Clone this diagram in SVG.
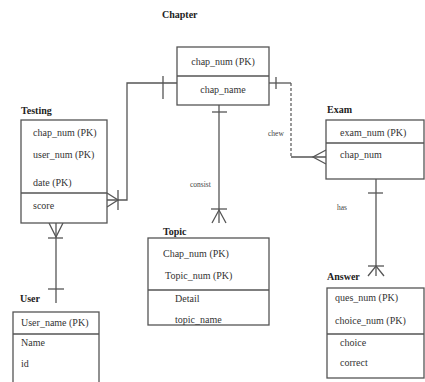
<svg xmlns="http://www.w3.org/2000/svg" width="425" height="382" viewBox="0 0 425 382">
<style>
.box{fill:#fff;stroke:#555;stroke-width:1.3}
.ln{fill:none;stroke:#555;stroke-width:1.3}
.dash{fill:none;stroke:#555;stroke-width:1.2;stroke-dasharray:3,2}
.t{font-family:'Liberation Serif','Times New Roman','DejaVu Serif',serif;font-size:10px;fill:#333}
.title{font-family:'Liberation Serif','Times New Roman','DejaVu Serif',serif;font-size:10px;font-weight:bold;fill:#222}
.lbl{font-family:'Liberation Serif','Times New Roman','DejaVu Serif',serif;font-size:7.5px;fill:#444}
</style>
<rect width="425" height="382" fill="#fff"/>
<g id="connectors">
  <polyline class="ln" points="177,83 127,83 127,200 107,200"/>
  <line class="ln" x1="163" y1="76" x2="163" y2="99"/>
  <line class="ln" x1="118" y1="190" x2="118" y2="210"/>
  <polyline class="ln" points="107,193 118,200 107,207"/>
  <line class="ln" x1="219" y1="105" x2="219" y2="223"/>
  <line class="ln" x1="212" y1="112" x2="227" y2="112"/>
  <line class="ln" x1="211" y1="209" x2="227" y2="209"/>
  <polyline class="ln" points="212,223 219,210 226,223"/>
  <text class="lbl" x="190" y="187">consist</text>
  <polyline class="ln" points="269,83 291,83"/>
  <line class="ln" x1="276" y1="77" x2="276" y2="89"/>
  <line class="dash" x1="291" y1="83" x2="291" y2="157"/>
  <line class="ln" x1="291" y1="157" x2="326" y2="157"/>
  <polyline class="ln" points="326,150 313,157 326,164"/>
  <text class="lbl" x="268" y="136">chew</text>
  <line class="ln" x1="56" y1="223" x2="56" y2="303"/>
  <polyline class="ln" points="49,223 56,237 63,223"/>
  <line class="ln" x1="48" y1="238" x2="63" y2="238"/>
  <line class="ln" x1="48" y1="289" x2="64" y2="289"/>
  <line class="ln" x1="376" y1="179" x2="376" y2="276"/>
  <line class="ln" x1="368" y1="193" x2="383" y2="193"/>
  <line class="ln" x1="368" y1="266" x2="384" y2="266"/>
  <polyline class="ln" points="368,276 376,266 384,276"/>
  <text class="lbl" x="337" y="210">has</text>
</g>
<g id="chapter">
  <text class="title" x="162" y="18">Chapter</text>
  <rect class="box" x="177" y="47" width="92" height="58"/>
  <line class="ln" x1="177" y1="76" x2="269" y2="76"/>
  <text class="t" x="223" y="65" text-anchor="middle">chap_num (PK)</text>
  <text class="t" x="223" y="93" text-anchor="middle">chap_name</text>
</g>
<g id="testing">
  <text class="title" x="21" y="114">Testing</text>
  <rect class="box" x="21" y="120" width="86" height="103"/>
  <line class="ln" x1="21" y1="193" x2="107" y2="193"/>
  <text class="t" x="33" y="136">chap_num (PK)</text>
  <text class="t" x="33" y="158">user_num (PK)</text>
  <text class="t" x="33" y="186">date  (PK)</text>
  <text class="t" x="33" y="209">score</text>
</g>
<g id="topic">
  <text class="title" x="163" y="235">Topic</text>
  <rect class="box" x="148" y="238" width="121" height="87"/>
  <line class="ln" x1="148" y1="290" x2="269" y2="290"/>
  <text class="t" x="163" y="257">Chap_num (PK)</text>
  <text class="t" x="165" y="279">Topic_num (PK)</text>
  <text class="t" x="175" y="302">Detail</text>
  <text class="t" x="175" y="323">topic_name</text>
</g>
<g id="exam">
  <text class="title" x="327" y="113">Exam</text>
  <rect class="box" x="326" y="120" width="98" height="59"/>
  <line class="ln" x1="326" y1="143" x2="424" y2="143"/>
  <text class="t" x="340" y="136">exam_num (PK)</text>
  <text class="t" x="340" y="158">chap_num</text>
</g>
<g id="answer">
  <text class="title" x="327" y="280">Answer</text>
  <rect class="box" x="327" y="288" width="97" height="90"/>
  <line class="ln" x1="327" y1="334" x2="424" y2="334"/>
  <text class="t" x="335" y="301">ques_num (PK)</text>
  <text class="t" x="335" y="324">choice_num (PK)</text>
  <text class="t" x="340" y="346">choice</text>
  <text class="t" x="340" y="366">correct</text>
</g>
<g id="user">
  <text class="title" x="20" y="302">User</text>
  <rect class="box" x="13" y="312" width="86" height="80"/>
  <line class="ln" x1="13" y1="334" x2="99" y2="334"/>
  <text class="t" x="21" y="326">User_name (PK)</text>
  <text class="t" x="21" y="346">Name</text>
  <text class="t" x="21" y="367">id</text>
</g>
</svg>
